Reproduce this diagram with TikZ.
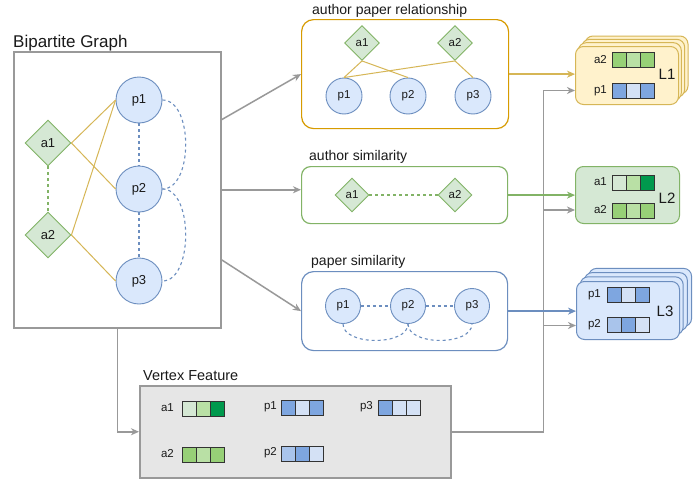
\documentclass[tikz,border=0pt]{standalone}
\usepackage{fontspec}
\setmainfont{Liberation Sans}
\usetikzlibrary{arrows.meta,shapes.geometric}

\definecolor{gfill}{HTML}{D5E8D4}
\definecolor{gline}{HTML}{82B366}
\definecolor{bfill}{HTML}{DAE8FC}
\definecolor{bline}{HTML}{6C8EBF}
\definecolor{yline}{HTML}{D6B656}
\definecolor{yfill}{HTML}{FFF2CC}
\definecolor{oline}{HTML}{D79B00}
\definecolor{grayline}{HTML}{999999}
\definecolor{vfill}{HTML}{E6E6E6}
\definecolor{cellline}{HTML}{333333}
\definecolor{gDark}{HTML}{00994D}
\definecolor{gMid}{HTML}{97D077}
\definecolor{gLight}{HTML}{B9E0A5}
\definecolor{gPale}{HTML}{D5E8D4}
\definecolor{bMid}{HTML}{7EA6E0}
\definecolor{bPale}{HTML}{D4E1F5}
\definecolor{bLight}{HTML}{A9C4EB}
\definecolor{ink}{HTML}{1A1A1A}

% three-cell feature vector: x, y (top left), then the three fills
\newcommand{\featbar}[5]{%
  \draw[cellbox, fill=#3] (#1,#2) rectangle ++(14.3,15);
  \draw[cellbox, fill=#4] (#1+14.3,#2) rectangle ++(14.3,15);
  \draw[cellbox, fill=#5] (#1+28.6,#2) rectangle ++(14.3,15);
}

\begin{document}
\begin{tikzpicture}[x=1pt,y=-1pt,
  authornode/.style={diamond, draw=gline, fill=gfill, line width=0.9pt,
    inner sep=0pt, minimum size=#1, text=ink, font=\fontsize{11.5}{12}\selectfont},
  papernode/.style={circle, draw=bline, fill=bfill, line width=0.9pt,
    inner sep=0pt, minimum size=#1, text=ink, font=\fontsize{11.5}{12}\selectfont},
  bigfont/.style={font=\fontsize{13}{14}\selectfont},
  titletext/.style={inner sep=0pt, anchor=base west, text=ink, font=\fontsize{14}{16}\selectfont},
  flabel/.style={inner sep=0pt, anchor=east, text=ink, font=\fontsize{11.5}{12}\selectfont},
  llabel/.style={inner sep=0pt, text=ink, font=\fontsize{15}{16}\selectfont},
  cellbox/.style={draw=cellline, line width=1pt},
  graybox/.style={draw=grayline, line width=1.5pt, inner sep=0pt, anchor=north west},
  groupbox/.style={line width=1.2pt, inner sep=0pt, anchor=north west},
  yedge/.style={draw=yline, line width=1pt},
  bdash/.style={draw=bline, line width=1.1pt, dash pattern=on 3pt off 3pt},
  gdash/.style={draw=gline, line width=1.1pt, dash pattern=on 3pt off 3pt},
  tip/.style={-{Stealth[length=8pt,width=7pt,inset=2.5pt]}},
  garrow/.style={tip, draw=grayline, line width=1.5pt},
  carrow/.style={tip, draw=#1, line width=1.3pt},
  ycard/.style={draw=yline, fill=yfill, line width=1pt, rounded corners=8pt},
  gcard/.style={draw=gline, fill=gfill, line width=1pt, rounded corners=8pt},
  bcard/.style={draw=bline, fill=bfill, line width=1pt, rounded corners=8pt},
]
\fill[white] (0,0) rectangle (693,479);
\useasboundingbox (0,0) rectangle (693,479);

% ---------------- bipartite graph ----------------
\node[titletext, font=\fontsize{17}{20}\selectfont] (tbg) at (13,47) {Bipartite Graph};
\node[graybox, minimum width=207pt, minimum height=276pt] (bg) at (13,51) {};

\node[authornode=46pt, bigfont] (ba1) at (48,143) {a1};
\node[authornode=46pt, bigfont] (ba2) at (48,235) {a2};
\node[papernode=46pt, bigfont] (bp1) at (139,100) {p1};
\node[papernode=46pt, bigfont] (bp2) at (139,189) {p2};
\node[papernode=46pt, bigfont] (bp3) at (139,281) {p3};

\draw[yedge] (ba1.east) -- (bp1.west);
\draw[yedge] (ba1.east) -- (bp2.west);
\draw[yedge] (ba2.east) -- (bp1.west);
\draw[yedge] (ba2.east) -- (bp3.west);
\draw[gdash] (ba1.south) -- (ba2.north);
\draw[bdash] (bp1.south) -- (bp2.north);
\draw[bdash] (bp2.south) -- (bp3.north);
\draw[bdash] (bp1.east) .. controls +(31,0) and +(31,0) .. (bp2.east);
\draw[bdash] (bp2.east) .. controls +(31,0) and +(31,0) .. (bp3.east);

% ---------------- author paper relationship ----------------
\node[titletext] (trel) at (312,14) {author paper relationship};
\node[groupbox, draw=oline, rounded corners=12pt, minimum width=207pt, minimum height=109pt] (rel) at (301,19) {};
\node[authornode=35pt] (ra1) at (362,43) {a1};
\node[authornode=35pt] (ra2) at (455,43) {a2};
\node[papernode=36pt] (rp1) at (344,96) {p1};
\node[papernode=36pt] (rp2) at (408,96) {p2};
\node[papernode=36pt] (rp3) at (473,96) {p3};
\draw[yedge] (ra1.south) -- (rp1.north);
\draw[yedge] (ra1.south) -- (rp2.north);
\draw[yedge] (ra2.south) -- (rp1.north);
\draw[yedge] (ra2.south) -- (rp3.north);

% ---------------- author similarity ----------------
\node[titletext] (tasim) at (309,160) {author similarity};
\node[groupbox, draw=gline, rounded corners=9pt, minimum width=206pt, minimum height=57pt] (asim) at (301,166) {};
\node[authornode=34pt] (sa1) at (352,195) {a1};
\node[authornode=34pt] (sa2) at (455,195) {a2};
\draw[gdash] (sa1.east) -- (sa2.west);

% ---------------- paper similarity ----------------
\node[titletext] (tpsim) at (311,265) {paper similarity};
\node[groupbox, draw=bline, rounded corners=12pt, minimum width=206pt, minimum height=79pt] (psim) at (301,271) {};
\node[papernode=35pt] (sp1) at (343,306) {p1};
\node[papernode=35pt] (sp2) at (408,306) {p2};
\node[papernode=35pt] (sp3) at (472,306) {p3};
\draw[bdash] (sp1.east) -- (sp2.west);
\draw[bdash] (sp2.east) -- (sp3.west);
\draw[bdash] (sp1.south) .. controls +(0,22) and +(0,22) .. (sp2.south);
\draw[bdash] (sp2.south) .. controls +(0,22) and +(0,22) .. (sp3.south);

% ---------------- vertex feature ----------------
\node[titletext, font=\fontsize{14.5}{16}\selectfont] (tvf) at (143,380) {Vertex Feature};
\node[graybox, fill=vfill, minimum width=311pt, minimum height=92pt] (vf) at (139,385) {};
\node[flabel] (va1) at (174,408) {a1};
\featbar{182}{401}{gPale}{gLight}{gDark}
\node[flabel] (va2) at (174,454) {a2};
\featbar{182}{447}{gMid}{gLight}{gMid}
\node[flabel] (vp1) at (277,407) {p1};
\featbar{281}{400}{bMid}{bPale}{bMid}
\node[flabel] (vp2) at (277,453) {p2};
\featbar{281}{446}{bLight}{bMid}{bPale}
\node[flabel] (vp3) at (373,407) {p3};
\featbar{378}{400}{bMid}{bPale}{bPale}

% ---------------- layer outputs ----------------
\foreach \d in {10,6.67,3.33} \draw[ycard] (575+\d,46-\d) rectangle ++(103,58);
\node[ycard, inner sep=0pt, anchor=north west, minimum width=103pt, minimum height=58pt] (L1) at (575,46) {};
\node[flabel] (l1a2) at (607,60) {a2};
\featbar{612}{52}{gMid}{gLight}{gMid}
\node[flabel] (l1p1) at (607,91) {p1};
\featbar{612}{83}{bMid}{bPale}{bMid}
\node[llabel] (l1t) at (667,74) {L1};

\node[gcard, inner sep=0pt, anchor=north west, minimum width=104pt, minimum height=57pt] (L2) at (575,166) {};
\node[flabel] (l2a1) at (607,182) {a1};
\featbar{612}{175}{gPale}{gLight}{gDark}
\node[flabel] (l2a2) at (607,210) {a2};
\featbar{612}{203}{gMid}{gLight}{gMid}
\node[llabel] (l2t) at (667,198) {L2};

\foreach \d in {12.6,8.4,4.2} \draw[bcard] (576+\d,281-\d) rectangle ++(103,58);
\node[bcard, inner sep=0pt, anchor=north west, minimum width=103pt, minimum height=58pt] (L3) at (576,281) {};
\node[flabel] (l3p1) at (601,295) {p1};
\featbar{607}{287}{bMid}{bPale}{bMid}
\node[flabel] (l3p2) at (601,325) {p2};
\featbar{607}{317}{bLight}{bMid}{bPale}
\node[llabel] (l3t) at (665,311) {L3};

% ---------------- connectors ----------------
\draw[garrow] ([yshift=70pt]bg.east) -- (rel.west);
\draw[garrow] (bg.east) -- (bg.east -| asim.west);
\draw[garrow] ([yshift=-70pt]bg.east) -- (psim.west);
\draw[garrow] (bg.south) |- (vf.west);

\path (vf.east) ++(92,0) coordinate (bus);
\coordinate (in1) at ([yshift=-15pt]L1.west);
\coordinate (in2) at ([yshift=-15pt]L2.west);
\coordinate (in3) at ([yshift=-15pt]L3.west);
\draw[garrow] (vf.east) -- (bus) |- (in1);
\draw[garrow] (in2 -| bus) -- (in2);
\draw[garrow] (in3 -| bus) -- (in3);

\draw[carrow=yline] (rel.east) -- (rel.east -| L1.west);
\draw[carrow=gline] (asim.east) -- (asim.east -| L2.west);
\draw[carrow=bline] (psim.east) -- (psim.east -| L3.west);
\end{tikzpicture}
\end{document}
